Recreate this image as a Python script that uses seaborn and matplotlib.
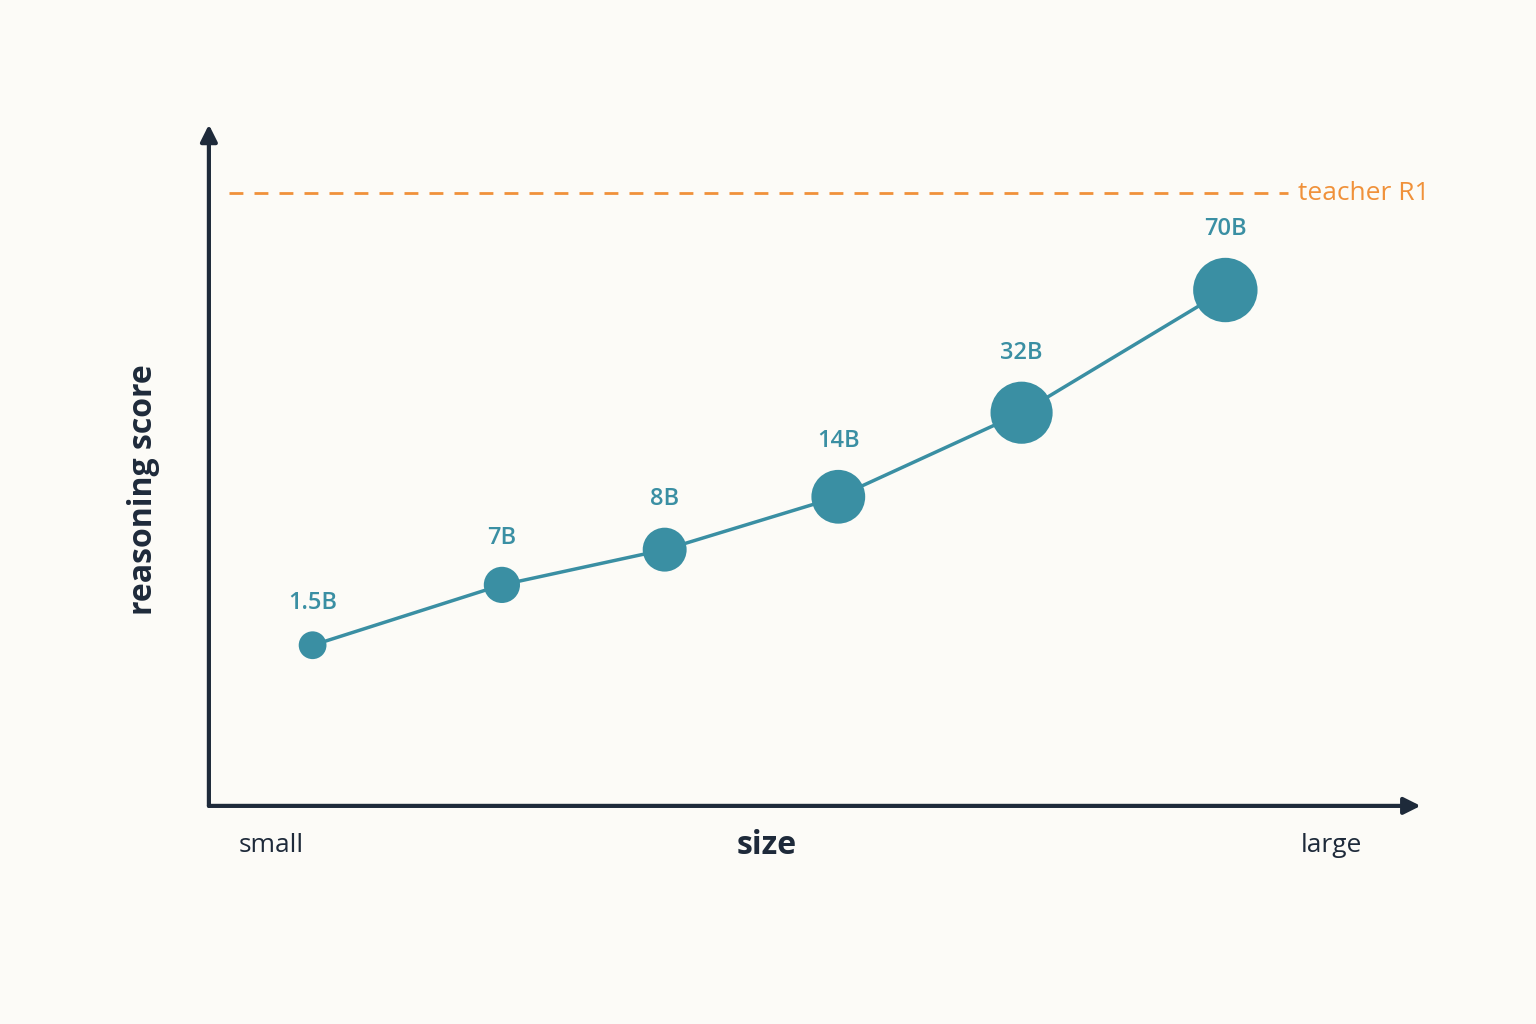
import matplotlib
matplotlib.use("Agg")
import matplotlib.pyplot as plt
import numpy as np
import pandas as pd
import seaborn as sns

# model sizes along the x axis (arbitrary position scale) and reasoning score
models = ["1.5B", "7B", "8B", "14B", "32B", "70B"]
size_pos = [8.6, 24.3, 37.8, 52.2, 67.4, 84.3]
score = [23.7, 32.6, 37.8, 45.6, 58.0, 76.1]
marker_area = [400, 680, 1000, 1500, 2000, 2150]
teacher_score = 90.4

teal = "#3a8fa3"
orange = "#f0913a"
ink = "#1e2a3a"
bg = "#fcfbf7"

sns.set_theme(style="white")
plt.rcParams["font.family"] = ["Open Sans", "DejaVu Sans"]

df = pd.DataFrame({"model": models, "x": size_pos, "y": score, "s": marker_area})

fig = plt.figure(figsize=(15.36, 10.24), dpi=100, facecolor=bg)
ax = fig.add_axes([0.136, 0.213, 0.785, 0.662])
ax.set_facecolor(bg)
ax.set_xlim(0, 100)
ax.set_ylim(0, 100)

sns.lineplot(data=df, x="x", y="y", ax=ax, color=teal, lw=2.5, zorder=2)
ax.scatter(df["x"], df["y"], s=df["s"], color=teal, zorder=3, edgecolor="none")
for _, r in df.iterrows():
    off = np.sqrt(r["s"]) / 2 + 12
    ax.annotate(r["model"], (r["x"], r["y"]), xytext=(0, off), textcoords="offset points",
                ha="center", va="bottom", color=teal, fontsize=17, fontweight="semibold")

ax.plot([1.7, 89.5], [teacher_score, teacher_score], ls=(0, (5, 4)), color=orange, lw=2)
ax.text(90.3, teacher_score, "teacher R1", color=orange, fontsize=19, va="center", ha="left",
        fontweight="medium")

for sp in ax.spines.values():
    sp.set_visible(False)
ax.set_xticks([])
ax.set_yticks([])
ax.set_xlabel("")
ax.set_ylabel("")
ax.annotate("", xy=(100.5, 0), xytext=(0, 0), xycoords="data",
            arrowprops=dict(arrowstyle="-|>", color=ink, lw=3, mutation_scale=25, shrinkA=0, shrinkB=0),
            annotation_clip=False)
ax.annotate("", xy=(0, 100.5), xytext=(0, 0), xycoords="data",
            arrowprops=dict(arrowstyle="-|>", color=ink, lw=3, mutation_scale=25, shrinkA=0, shrinkB=0),
            annotation_clip=False)

fig.text(271 / 1536, 1 - 846 / 1024, "small", ha="center", va="center", fontsize=19, color=ink)
fig.text(1331 / 1536, 1 - 846 / 1024, "large", ha="center", va="center", fontsize=19, color=ink)
fig.text(767 / 1536, 1 - 846 / 1024, "size", ha="center", va="center", fontsize=23,
         fontweight="bold", color=ink)
fig.text(144 / 1536, 1 - 490 / 1024, "reasoning score", ha="center", va="center", rotation=90,
         fontsize=23, fontweight="bold", color=ink)

fig.savefig("out.png", dpi=100, facecolor=bg)
